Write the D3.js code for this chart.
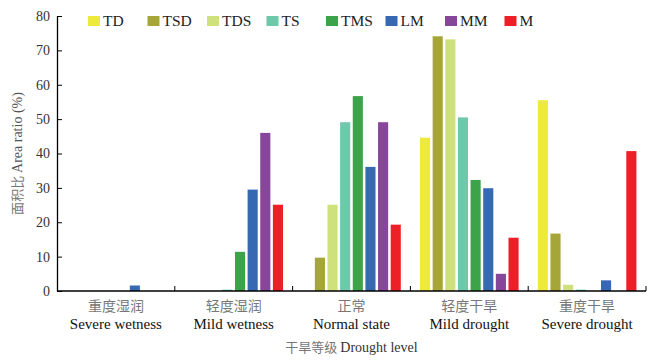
<!DOCTYPE html>
<html>
<head>
<meta charset="utf-8">
<script src="https://cdn.jsdelivr.net/npm/d3@7"></script>
<style>
  body { margin: 0; background: #fff; }
</style>
</head>
<body>
<div id="chart"></div>
<script>
// categories (drought level)
const levelsCn = ["重度湿润", "轻度湿润", "正常", "轻度干旱", "重度干旱"];
const levelsEn = ["Severe wetness", "Mild wetness", "Normal state", "Mild drought", "Severe drought"];
const series = ["TD", "TSD", "TDS", "TS", "TMS", "LM", "MM", "M"];
const colors = ["#eeea3c", "#a6a538", "#cfe17c", "#6ec8aa", "#3da34a", "#3669b2", "#86479b", "#ed2027"];

// area ratio (%) per series, one value per drought level
const TD  = [0, 0, 0, 44.6, 55.5];
const TSD = [0, 0, 9.7, 74.1, 16.7];
const TDS = [0, 0, 25.1, 73.2, 1.8];
const TS  = [0, 0.4, 49.1, 50.5, 0.4];
const TMS = [0, 11.4, 56.7, 32.3, 0];
const LM  = [1.6, 29.5, 36.1, 29.9, 3.1];
const MM  = [0, 46.0, 49.1, 5.0, 0];
const M   = [0, 25.1, 19.3, 15.5, 40.7];
const values = [TD, TSD, TDS, TS, TMS, LM, MM, M];
const yTicks = [0, 10, 20, 30, 40, 50, 60, 70, 80];

const W = 660, H = 362;
const margin = {top: 16, right: 14, bottom: 71, left: 57};
const SERIF = "'Liberation Serif', 'Times New Roman', 'DejaVu Serif', serif";
const CN = "'Noto Sans CJK SC', sans-serif";

const svg = d3.select("#chart").append("svg")
  .attr("width", W).attr("height", H)
  .attr("font-family", SERIF);

const x = d3.scaleBand().domain(levelsEn).range([margin.left, W - margin.right]).padding(0);
const xs = d3.scaleBand().domain(series).range([0, x.bandwidth()])
  .paddingInner(0.2).paddingOuter(0.76);
const y = d3.scaleLinear().domain([0, 80]).range([H - margin.bottom, margin.top]);

// bars
const rows = levelsEn.map((lv, i) => ({lv, vals: series.map((s, j) => ({s, j, v: values[j][i]}))}));
svg.append("g").selectAll("g").data(rows).join("g")
  .attr("transform", d => `translate(${x(d.lv)},0)`)
  .selectAll("rect").data(d => d.vals.filter(e => e.v > 0)).join("rect")
  .attr("x", d => xs(d.s))
  .attr("width", xs.bandwidth())
  .attr("y", d => y(d.v))
  .attr("height", d => y(0) - y(d.v))
  .attr("fill", d => colors[d.j]);

// y axis, ticks pointing inward
const yAxis = svg.append("g").attr("transform", `translate(${margin.left},0)`)
  .call(d3.axisRight(y).tickValues(yTicks).tickSize(5).tickSizeOuter(0))
  .attr("font-family", SERIF).attr("font-size", 14);
yAxis.select(".domain").attr("stroke", "#000").attr("stroke-width", 1.3);
yAxis.selectAll(".tick line").attr("stroke", "#000");
yAxis.selectAll(".tick text")
  .attr("x", -7).attr("text-anchor", "end")
  .attr("fill", "#333");

// x axis: boundary ticks pointing up
const xg = svg.append("g").attr("transform", `translate(0,${y(0)})`);
xg.append("line").attr("x1", margin.left).attr("x2", W - margin.right)
  .attr("stroke", "#000").attr("stroke-width", 1.3);
const bounds = levelsEn.slice(1).map(d => x(d)).concat([W - margin.right]);
xg.selectAll("line.tk").data(bounds).join("line").attr("class", "tk")
  .attr("x1", d => d).attr("x2", d => d).attr("y1", 0).attr("y2", -5)
  .attr("stroke", "#000");

// category labels
levelsEn.forEach((lv, i) => {
  const cx = x(lv) + x.bandwidth() / 2;
  svg.append("text").attr("x", cx).attr("y", 311)
    .attr("font-family", CN)
    .attr("text-anchor", "middle").attr("font-size", 14).attr("fill", "#777")
    .text(levelsCn[i]);
  svg.append("text").attr("x", cx).attr("y", 329)
    .attr("text-anchor", "middle").attr("font-size", 15).attr("fill", "#111")
    .text(lv);
});

// axis titles
const xt = svg.append("text").attr("x", (margin.left + W - margin.right) / 2).attr("y", 352)
  .attr("text-anchor", "middle").attr("font-size", 14).attr("fill", "#333");
xt.append("tspan").attr("font-family", CN).attr("fill", "#777").attr("font-size", 13).text("干旱等级 ");
xt.append("tspan").text("Drought level");

const yt = svg.append("text")
  .attr("transform", `translate(22,${(y(0) + y(80)) / 2}) rotate(-90)`)
  .attr("text-anchor", "middle").attr("font-size", 14).attr("fill", "#555");
yt.append("tspan").attr("font-family", CN).attr("fill", "#777").attr("font-size", 13).text("面积比 ");
yt.append("tspan").text("Area ratio (%)");

// legend
const lg = svg.append("g").selectAll("g").data(series).join("g")
  .attr("transform", (d, i) => `translate(${88 + i * 59.5},16)`);
lg.append("rect").attr("width", 12).attr("height", 10).attr("fill", (d, i) => colors[i]);
lg.append("text").attr("x", 15).attr("y", 10).attr("font-size", 15.5).attr("fill", "#222")
  .text(d => d);
</script>
</body>
</html>
